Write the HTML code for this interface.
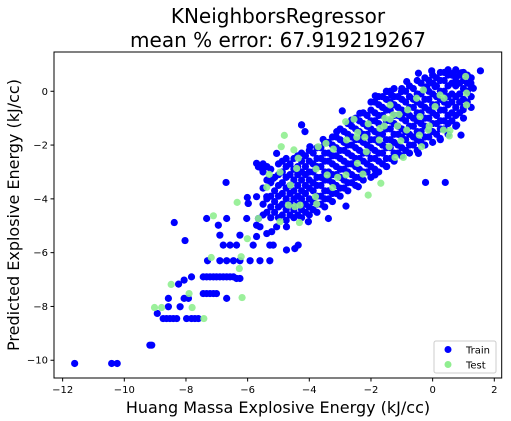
<!DOCTYPE html>
<html><head><meta charset="utf-8"><style>
html,body{margin:0;padding:0;background:#fff;}
svg{display:block;font-family:"DejaVu Sans","Liberation Sans",sans-serif;}
</style></head><body>
<svg id="chart" width="511" height="421" viewBox="0 0 511 421" xmlns="http://www.w3.org/2000/svg">
<text x="278" y="23" font-size="20" text-anchor="middle" fill="#000">KNeighborsRegressor</text>
<text x="278" y="47" font-size="20" text-anchor="middle" fill="#000">mean % error: 67.919219267</text>
<text x="278" y="413" font-size="16" text-anchor="middle" fill="#000">Huang Massa Explosive Energy (kJ/cc)</text>
<text x="0" y="0" font-size="16" text-anchor="middle" fill="#000" transform="translate(19,215) rotate(-90)">Predicted Explosive Energy (kJ/cc)</text>
<g id="marks"></g>
<g id="axes"></g>
<g id="legend">
<rect x="434" y="341" width="62" height="32" rx="2" fill="#fff" fill-opacity="0.8" stroke="#ccc" stroke-width="1"/>
<circle cx="448" cy="349.5" r="3.5" fill="#0000ff"/>
<text x="466" y="353.5" font-size="10" fill="#000">Train</text>
<circle cx="448" cy="364.5" r="3.5" fill="#90ee90"/>
<text x="466" y="368.5" font-size="10" fill="#000">Test</text>
</g>
</svg>
<script>
const xTicks = [-12,-10,-8,-6,-4,-2,0,2];
const yTicks = [0,-2,-4,-6,-8,-10];
const trainX = [
-11.61,-10.41,-10.23,-9.17,-9.11,-8.38,-8.03,-6.70,-0.23,0.41,1.55,1.32,-0.46,-0.03,-2.93,-1.86,-4.25,-2.81,0.92,
-8.74,-8.63,-8.52,-8.41,-8.30,-7.98,-7.82,-7.71,-7.60,-8.93,-8.57,-8.19,-8.57,-8.24,-8.06,-7.82,-8.06,-7.92,
-7.44,-7.33,-7.22,-7.11,-7.01,-6.90,-6.79,-6.68,-6.57,-6.46,-6.36,-7.44,-7.33,-7.22,-7.11,-7.01,-6.68,-6.25,
-7.30,-6.90,-6.68,-6.46,-6.25,-5.92,-5.60,-5.28,-6.79,-6.57,-6.36,-5.82,-5.28,-5.17,-4.36,-6.90,-6.25,-6.95,-5.71,-7.33,-6.68,
-6.01,-5.98,-5.65,-5.60,-5.71,-4.74,-4.47,-5.38,-5.06,
-5.71,-5.65,-5.51,-5.06,-4.25,-4.14,-3.98,-3.55,-3.11,-2.63,-2.36,-1.49,-1.33,-1.01,-0.84,-0.19,0.08,0.67,0.94,0.72,0.99,1.24,0.78,0.24,-0.46,-1.49,-1.87,-2.41,-3.38,-4.03,-4.74,-5.22,-6.03,-5.98,-5.38,-5.17,-5.71,
-5.5,-5.5,-5.5,-5.5,-5.5,
-5.25,-5.25,-5.25,-5.25,-5.25,
-5.0,-5.0,-5.0,-5.0,-5.0,-5.0,
-4.75,-4.75,-4.75,-4.75,-4.75,-4.75,-4.75,
-4.5,-4.5,-4.5,-4.5,-4.5,-4.5,-4.5,
-4.25,-4.25,-4.25,-4.25,-4.25,-4.25,-4.25,-4.25,
-4.0,-4.0,-4.0,-4.0,-4.0,-4.0,-4.0,-4.0,
-3.75,-3.75,-3.75,-3.75,-3.75,-3.75,-3.75,-3.75,
-3.5,-3.5,-3.5,-3.5,-3.5,-3.5,-3.5,-3.5,
-3.25,-3.25,-3.25,-3.25,-3.25,-3.25,-3.25,-3.25,
-3.0,-3.0,-3.0,-3.0,-3.0,-3.0,-3.0,-3.0,
-2.75,-2.75,-2.75,-2.75,-2.75,-2.75,-2.75,-2.75,
-2.5,-2.5,-2.5,-2.5,-2.5,-2.5,-2.5,-2.5,
-2.25,-2.25,-2.25,-2.25,-2.25,-2.25,-2.25,-2.25,
-2.0,-2.0,-2.0,-2.0,-2.0,-2.0,-2.0,-2.0,-2.0,
-1.75,-1.75,-1.75,-1.75,-1.75,-1.75,-1.75,-1.75,-1.75,
-1.5,-1.5,-1.5,-1.5,-1.5,-1.5,-1.5,-1.5,-1.5,
-1.25,-1.25,-1.25,-1.25,-1.25,-1.25,-1.25,-1.25,-1.25,
-1.0,-1.0,-1.0,-1.0,-1.0,-1.0,-1.0,-1.0,
-0.75,-0.75,-0.75,-0.75,-0.75,-0.75,-0.75,-0.75,
-0.5,-0.5,-0.5,-0.5,-0.5,-0.5,-0.5,-0.5,
-0.25,-0.25,-0.25,-0.25,-0.25,-0.25,-0.25,-0.25,
0.0,0.0,0.0,0.0,0.0,0.0,0.0,0.0,
0.25,0.25,0.25,0.25,0.25,0.25,0.25,0.25,
0.5,0.5,0.5,0.5,0.5,0.5,0.5,0.5,
0.75,0.75,0.75,0.75,0.75,0.75,0.75,
1.0,1.0,1.0,1.0,1.0,1.0,
1.25,1.25,1.25,1.25
];
const trainY = [
-10.12,-10.12,-10.12,-9.44,-9.44,-4.88,-5.55,-3.39,-3.39,-3.39,0.76,0.11,0.67,0.76,-0.73,-0.17,-1.25,-4.27,-1.63,
-8.45,-8.45,-8.45,-8.45,-8.45,-8.45,-8.45,-8.45,-8.45,-8.26,-8.01,-8.01,-7.70,-7.17,-7.02,-6.90,-7.70,-7.70,
-6.90,-6.90,-6.90,-6.90,-6.90,-6.90,-6.90,-6.90,-6.90,-6.90,-6.96,-7.52,-7.52,-7.52,-7.52,-7.52,-7.70,-6.96,
-6.30,-6.30,-6.30,-6.30,-6.30,-6.30,-6.30,-6.30,-5.72,-5.72,-5.72,-5.72,-5.72,-5.72,-5.72,-5.35,-5.35,-4.98,-4.98,-4.73,-4.73,
-3.95,-4.17,-4.73,-5.04,-5.40,-5.90,-5.85,-5.29,-5.04,
-2.68,-2.81,-2.93,-2.31,-1.25,-1.50,-2.06,-1.79,-1.50,-1.07,-0.82,-0.01,-0.14,-0.01,0.36,0.17,0.17,0.67,0.69,0.30,-0.69,0.30,-1.26,-1.75,-2.31,-2.80,-3.11,-3.55,-4.73,-4.85,-5.04,-5.22,-4.73,-4.17,-3.92,-3.24,-3.92,
-4.6,-4.2,-3.6,-3.0,-2.7,
-4.7,-4.3,-3.9,-3.4,-2.9,
-4.7,-4.3,-3.9,-3.5,-3.1,-2.7,
-4.8,-4.4,-4.0,-3.6,-3.2,-2.8,-2.5,
-4.7,-4.4,-4.0,-3.7,-3.3,-2.9,-2.5,
-4.7,-4.4,-4.0,-3.7,-3.3,-3.0,-2.6,-2.3,
-4.6,-4.3,-4.0,-3.6,-3.3,-3.0,-2.6,-2.2,
-4.5,-4.2,-3.9,-3.5,-3.2,-2.8,-2.5,-2.1,
-4.3,-4.0,-3.7,-3.3,-3.0,-2.6,-2.3,-1.9,
-4.1,-3.8,-3.4,-3.1,-2.7,-2.4,-2.0,-1.7,
-3.9,-3.6,-3.2,-2.9,-2.5,-2.2,-1.8,-1.4,
-3.7,-3.4,-3.0,-2.7,-2.3,-2.0,-1.6,-1.2,
-3.5,-3.2,-2.8,-2.5,-2.1,-1.8,-1.4,-1.0,
-3.3,-3.0,-2.6,-2.3,-1.9,-1.6,-1.2,-0.8,
-3.2,-2.8,-2.5,-2.1,-1.8,-1.4,-1.1,-0.7,-0.4,
-3.0,-2.6,-2.3,-1.9,-1.6,-1.2,-0.9,-0.5,-0.2,
-2.8,-2.5,-2.1,-1.8,-1.4,-1.1,-0.7,-0.3,0.0,
-2.6,-2.3,-1.9,-1.6,-1.2,-0.9,-0.5,-0.2,0.1,
-2.4,-2.1,-1.7,-1.4,-1.0,-0.7,-0.3,0.1,
-2.3,-2.0,-1.6,-1.3,-0.9,-0.6,-0.2,0.2,
-2.2,-1.8,-1.5,-1.1,-0.8,-0.4,-0.1,0.4,
-2.0,-1.7,-1.3,-1.0,-0.6,-0.3,0.1,0.5,
-1.9,-1.5,-1.2,-0.8,-0.5,-0.1,0.3,0.6,
-1.8,-1.4,-1.1,-0.7,-0.3,0.0,0.4,0.7,
-1.6,-1.2,-0.9,-0.5,-0.2,0.2,0.6,0.8,
-1.3,-0.9,-0.6,-0.2,0.2,0.5,0.8,
-1.0,-0.6,-0.3,0.1,0.4,0.7,
-0.6,-0.2,0.2,0.5
];
const trainCoreX = [
-5.375,-5.375,-5.375,-5.375,
-5.125,-5.125,-5.125,-5.125,
-4.875,-4.875,-4.875,-4.875,-4.875,-4.875,
-4.625,-4.625,-4.625,-4.625,-4.625,-4.625,
-4.375,-4.375,-4.375,-4.375,-4.375,-4.375,-4.375,
-4.125,-4.125,-4.125,-4.125,-4.125,-4.125,-4.125,
-3.875,-3.875,-3.875,-3.875,-3.875,-3.875,-3.875,
-3.625,-3.625,-3.625,-3.625,-3.625,-3.625,-3.625,
-3.375,-3.375,-3.375,-3.375,-3.375,-3.375,-3.375,
-3.125,-3.125,-3.125,-3.125,-3.125,-3.125,-3.125,
-2.875,-2.875,-2.875,-2.875,-2.875,-2.875,-2.875,
-2.625,-2.625,-2.625,-2.625,-2.625,-2.625,-2.625,
-2.375,-2.375,-2.375,-2.375,-2.375,-2.375,-2.375,
-2.125,-2.125,-2.125,-2.125,-2.125,-2.125,-2.125,
-1.875,-1.875,-1.875,-1.875,-1.875,-1.875,-1.875,-1.875,
-1.625,-1.625,-1.625,-1.625,-1.625,-1.625,-1.625,-1.625,
-1.375,-1.375,-1.375,-1.375,-1.375,-1.375,-1.375,-1.375,
-1.125,-1.125,-1.125,-1.125,-1.125,-1.125,-1.125,
-0.875,-0.875,-0.875,-0.875,-0.875,-0.875,-0.875,
-0.625,-0.625,-0.625,-0.625,-0.625,-0.625,-0.625,
-0.375,-0.375,-0.375,-0.375,-0.375,-0.375,-0.375,
-0.125,-0.125,-0.125,-0.125,-0.125,-0.125,-0.125,
0.125,0.125,0.125,0.125,0.125,0.125,0.125,
0.375,0.375,0.375,0.375,0.375,0.375,0.375,
0.625,0.625,0.625,0.625,0.625,0.625,
0.875,0.875,0.875,0.875,0.875,
1.125,1.125,1.125,1.125
];
const trainCoreY = [
-4.5,-4.0,-3.3,-2.8,
-4.5,-4.1,-3.7,-3.2,
-4.6,-4.2,-3.8,-3.4,-3.0,-2.6,
-4.6,-4.2,-3.8,-3.5,-3.1,-2.7,
-4.6,-4.2,-3.9,-3.5,-3.1,-2.8,-2.4,
-4.5,-4.2,-3.8,-3.5,-3.1,-2.8,-2.4,
-4.4,-4.1,-3.7,-3.4,-3.0,-2.7,-2.3,
-4.2,-3.9,-3.5,-3.2,-2.8,-2.5,-2.1,
-4.0,-3.7,-3.3,-3.0,-2.6,-2.3,-1.9,
-3.8,-3.5,-3.1,-2.8,-2.4,-2.1,-1.7,
-3.6,-3.3,-2.9,-2.6,-2.2,-1.9,-1.5,
-3.4,-3.1,-2.7,-2.4,-2.0,-1.7,-1.3,
-3.2,-2.9,-2.5,-2.2,-1.8,-1.5,-1.1,
-3.0,-2.7,-2.3,-2.0,-1.6,-1.3,-0.9,
-2.9,-2.5,-2.2,-1.8,-1.5,-1.1,-0.8,-0.4,
-2.7,-2.3,-2.0,-1.6,-1.3,-0.9,-0.6,-0.2,
-2.5,-2.1,-1.8,-1.4,-1.1,-0.7,-0.4,0.0,
-2.3,-2.0,-1.6,-1.3,-0.9,-0.6,-0.2,
-2.2,-1.8,-1.5,-1.1,-0.8,-0.4,0.0,
-2.0,-1.7,-1.3,-1.0,-0.6,-0.3,0.1,
-1.9,-1.5,-1.2,-0.8,-0.5,-0.1,0.3,
-1.7,-1.4,-1.0,-0.7,-0.3,0.0,0.4,
-1.6,-1.2,-0.9,-0.5,-0.2,0.2,0.5,
-1.4,-1.1,-0.7,-0.4,0.0,0.4,0.7,
-1.1,-0.8,-0.4,-0.1,0.3,0.6,
-0.8,-0.4,-0.1,0.3,0.6,
-0.4,0.0,0.3,0.6
];
const testX = [-9.02,-8.79,-8.48,-7.90,-7.80,-7.42,-7.18,-7.11,-6.34,-6.01,-6.21,-6.27,-6.18,-5.65,-5.38,-5.30,-4.95,-4.95,-4.81,-4.91,-4.50,-4.36,-4.32,-4.61,-4.68,-4.47,-4.30,-4.41,-3.80,-3.76,-3.71,-3.46,-3.78,-3.42,-3.22,-3.24,-3.08,-2.82,-2.79,-2.81,-2.55,-2.43,-2.46,-2.20,-2.15,-2.44,-2.26,-2.09,-1.68,-2.09,-1.71,-1.57,-1.73,-1.41,-1.38,-1.38,-1.14,-1.03,-1.09,-0.81,-0.95,-1.22,-0.84,-0.52,-0.41,-0.43,-0.36,-0.30,-0.14,-0.11,0.08,0.24,0.37,0.35,0.56,0.54,1.07,1.10,1.10,-1.28,-1.55];
const testY = [-8.04,-8.04,-7.18,-7.52,-8.04,-8.45,-6.18,-4.63,-4.13,-5.48,-6.15,-6.59,-7.67,-4.73,-3.57,-3.09,-3.01,-4.85,-1.64,-2.06,-2.18,-2.49,-4.88,-3.49,-4.23,-4.29,-4.23,-2.87,-3.92,-4.19,-2.06,-1.94,-2.89,-3.11,-2.15,-3.58,-3.20,-1.13,-1.81,-3.11,-1.04,-1.53,-1.71,-1.71,-2.25,-2.68,-3.08,-3.86,-3.42,-1.21,-1.38,-1.29,-1.81,-2.06,-1.04,-0.51,-1.29,-1.84,-0.86,-0.69,-2.46,-2.46,-1.44,-0.26,-0.94,-1.63,-2.06,0.05,-1.44,-1.29,-0.57,-0.14,-0.26,-1.44,-1.46,-1.66,0.55,-0.07,-0.51,-0.88,-1.00];

const NS = 'http://www.w3.org/2000/svg';
const PL = 54, PR = 501.7, PT = 52, PB = 378;
const xMin = -12.28, xMax = 2.24, yMin = -10.66, yMax = 1.46;
function xs(v){ return PL + (v - xMin) / (xMax - xMin) * (PR - PL); }
function ys(v){ return PB - (v - yMin) / (yMax - yMin) * (PB - PT); }
const marks = document.getElementById('marks');
function drawTrain(X, Y){
  for (let i = 0; i < X.length; i++) {
    const c = document.createElementNS(NS, 'circle');
    c.setAttribute('cx', xs(X[i])); c.setAttribute('cy', ys(Y[i]));
    c.setAttribute('r', 3.6); c.setAttribute('fill', '#0000ff');
    
    
    marks.appendChild(c);
  }
}
drawTrain(trainX, trainY);
drawTrain(trainCoreX, trainCoreY);
for (let i = 0; i < testX.length; i++) {
  const c = document.createElementNS(NS, 'circle');
  c.setAttribute('cx', xs(testX[i])); c.setAttribute('cy', ys(testY[i]));
  c.setAttribute('r', 3.6); c.setAttribute('fill', '#90ee90'); c.setAttribute('fill-opacity', '0.9');
  
  
  marks.appendChild(c);
}
const axes = document.getElementById('axes');
const frame = document.createElementNS(NS, 'rect');
frame.setAttribute('x', PL); frame.setAttribute('y', PT);
frame.setAttribute('width', PR - PL); frame.setAttribute('height', PB - PT);
frame.setAttribute('fill', 'none'); frame.setAttribute('stroke', '#000'); frame.setAttribute('stroke-width', '1');


axes.appendChild(frame);
xTicks.forEach(t => {
  const x = xs(t);
  const l = document.createElementNS(NS, 'line');
  l.setAttribute('x1', x); l.setAttribute('x2', x); l.setAttribute('y1', PB); l.setAttribute('y2', PB + 3.5);
  l.setAttribute('stroke', '#000');
  
  
  axes.appendChild(l);
  const tx = document.createElementNS(NS, 'text');
  tx.setAttribute('x', x); tx.setAttribute('y', PB + 15); tx.setAttribute('font-size', '10');
  tx.setAttribute('text-anchor', 'middle');
  tx.textContent = (t < 0 ? '\u2212' + (-t) : String(t));
  
  
  axes.appendChild(tx);
});
yTicks.forEach(t => {
  const y = ys(t);
  const l = document.createElementNS(NS, 'line');
  l.setAttribute('x1', PL - 3.5); l.setAttribute('x2', PL); l.setAttribute('y1', y); l.setAttribute('y2', y);
  l.setAttribute('stroke', '#000');
  
  
  axes.appendChild(l);
  const tx = document.createElementNS(NS, 'text');
  tx.setAttribute('x', PL - 6); tx.setAttribute('y', y + 3.5); tx.setAttribute('font-size', '10');
  tx.setAttribute('text-anchor', 'end');
  tx.textContent = (t < 0 ? '\u2212' + (-t) : String(t));
  
  
  axes.appendChild(tx);
});
</script>
</body></html>
